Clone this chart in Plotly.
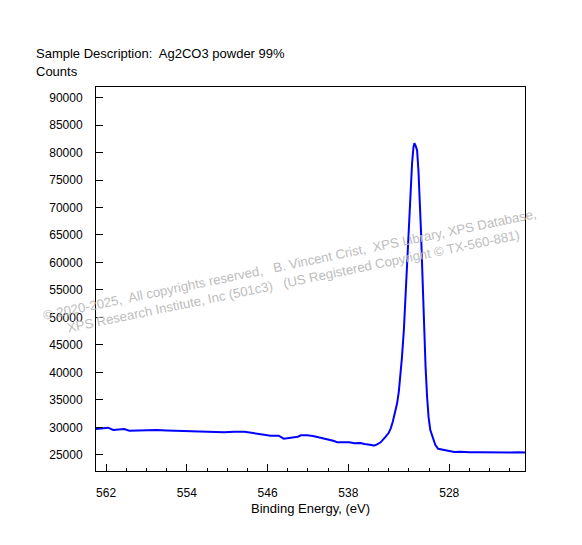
import plotly.graph_objects as go

binding_energy = [
    563.0, 562.5, 561.8, 561.3, 560.7, 560.2, 559.7, 559.0, 558.0, 557.0,
    556.0, 555.0, 554.2, 553.3, 552.5, 551.5, 550.3, 549.3, 548.3, 547.6,
    547.0, 546.3, 545.7, 544.9, 544.4, 543.7, 543.0, 542.7, 542.1, 541.5,
    540.7, 539.9, 539.4, 539.1, 538.5, 537.9, 537.4, 536.8, 536.4, 536.1,
    535.7, 535.5, 535.2, 534.8, 534.5, 534.3, 534.0, 533.8, 533.6, 533.4,
    533.17, 533.0, 532.84, 532.7, 532.5, 532.35, 532.18, 532.0, 531.85, 531.69,
    531.55, 531.46, 531.35, 531.19, 531.05, 530.93, 530.8, 530.7, 530.6, 530.47,
    530.35, 530.2, 530.05, 529.88, 529.6, 529.38, 529.1, 528.56, 528.0, 527.5,
    526.9, 526.0, 525.0, 524.0, 523.0, 522.0, 521.0, 520.5,
]
counts = [
    29700, 29750, 29930, 29510, 29600, 29690, 29390, 29450, 29480, 29500,
    29420, 29380, 29330, 29330, 29250, 29200, 29090, 29210, 29170, 29000,
    28840, 28650, 28480, 28480, 27930, 28110, 28300, 28540, 28540, 28400,
    28060, 27810, 27500, 27270, 27300, 27270, 27090, 27150, 26950, 26910,
    26800, 26650, 26850, 27270, 27800, 28290, 29000, 29820, 31000, 32500,
    34360, 36500, 39200, 42500, 47700, 53500, 59820, 66000, 71940, 78000,
    81000, 81700, 81300, 80420, 76500, 71940, 65500, 59820, 53500, 47700,
    41000, 35560, 31800, 29500, 27800, 26780, 26100, 25870, 25650, 25500,
    25560, 25450, 25480, 25420, 25460, 25400, 25440, 25400,
]

x_tick_vals = [562, 554, 546, 538, 528]
x_tick_text = ["562", "554", "546", "538", "528"]
y_tick_vals = [25000, 30000, 35000, 40000, 45000, 50000, 55000, 60000, 65000,
               70000, 75000, 80000, 85000, 90000]
y_tick_text = [str(v) for v in y_tick_vals]

title_text = "Sample Description:  Ag2CO3 powder 99%"
y_label = "Counts"
x_label = "Binding Energy, (eV)"
watermark = ("© 2020-2025,  All copyrights reserved,   B. Vincent Crist,  XPS Library, XPS Database,"
             "<br>XPS Research Institute, Inc (501c3)   (US Registered Copyright © TX-560-881)")

FONT = "Liberation Sans, Arial, sans-serif"

fig = go.Figure()
fig.add_trace(go.Scatter(
    x=binding_energy, y=counts, mode="lines",
    line=dict(color="#0000ff", width=2),
    hoverinfo="skip", showlegend=False,
))

fig.update_layout(
    width=582, height=545,
    margin=dict(l=88, r=65, t=79, b=82),
    paper_bgcolor="white", plot_bgcolor="white",
    font=dict(family=FONT, size=12, color="black"),
    showlegend=False,
)

fig.update_xaxes(
    range=[563.0, 520.5], autorange=False,
    tickmode="array", tickvals=x_tick_vals, ticktext=x_tick_text,
    ticks="inside", ticklen=7, tickwidth=1, tickcolor="black",
    minor=dict(ticks="inside", ticklen=3, tickwidth=1, tickcolor="black",
               tickmode="linear", tick0=0, dtick=2, showgrid=False),
    showline=True, linecolor="black", linewidth=1, mirror=True,
    showgrid=False, zeroline=False,
    tickfont=dict(family=FONT, size=12, color="black"),
    ticklabelstandoff=11,
    title=dict(text=x_label, font=dict(family=FONT, size=13, color="black"), standoff=4),
)
fig.update_yaxes(
    range=[22050, 91930], autorange=False,
    tickmode="array", tickvals=y_tick_vals, ticktext=y_tick_text,
    ticks="inside", ticklen=7, tickwidth=1, tickcolor="black",
    showline=True, linecolor="black", linewidth=1, mirror=True,
    showgrid=False, zeroline=False,
    tickfont=dict(family=FONT, size=12, color="black"),
    ticklabelstandoff=10,
)

fig.add_annotation(
    xref="paper", yref="paper", x=0.0, y=1.0, xshift=-62, yshift=24,
    xanchor="left", yanchor="bottom", showarrow=False,
    text=title_text, font=dict(family=FONT, size=13, color="black"),
)
fig.add_annotation(
    xref="paper", yref="paper", x=0.0, y=1.0, xshift=-62, yshift=6,
    xanchor="left", yanchor="bottom", showarrow=False,
    text=y_label, font=dict(family=FONT, size=13, color="black"),
)
fig.add_annotation(
    xref="paper", yref="paper", x=0.455, y=0.515,
    xanchor="center", yanchor="middle", showarrow=False,
    text=watermark, textangle=-11.7, align="center",
    font=dict(family=FONT, size=13.2, color="#bdbdbd"),
)

fig.write_html("out.html")
